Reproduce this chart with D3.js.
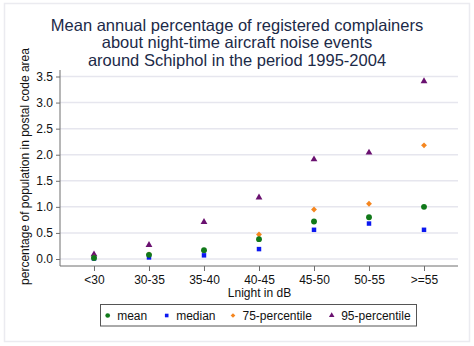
<!DOCTYPE html>
<html>
<head>
<meta charset="utf-8">
<script src="https://cdn.jsdelivr.net/npm/d3@7"></script>
<style>
  html, body { margin: 0; padding: 0; background: #fff; }
  svg { display: block; font-family: Arial, "Liberation Sans", sans-serif; }
</style>
</head>
<body>
<svg id="chart" width="474" height="346"></svg>
<script>
// Noise-band categories (Lnight in dB)
const categories = ["<30", "30-35", "35-40", "40-45", "45-50", "50-55", ">=55"];

// Percentage of population in postal code area with registered complaints
const meanValues   = [0.02, 0.08, 0.17, 0.38, 0.72, 0.80, 1.00];
const medianValues = [0.01, 0.03, 0.07, 0.19, 0.56, 0.68, 0.56];
const p75Values    = [0.03, 0.09, 0.16, 0.47, 0.95, 1.06, 2.18];
const p95Values    = [0.09, 0.27, 0.71, 1.18, 1.91, 2.04, 3.41];

const yTicks = [0, 0.5, 1.0, 1.5, 2.0, 2.5, 3.0, 3.5];

const titleLines = [
  "Mean annual percentage of registered complainers",
  "about night-time aircraft noise events",
  "around Schiphol in the period 1995-2004"
];

// square turned 45 degrees, equal width and height
const diamondSymbol = {
  draw(context, size) {
    const r = Math.sqrt(size / 2);
    context.moveTo(0, -r);
    context.lineTo(r, 0);
    context.lineTo(0, r);
    context.lineTo(-r, 0);
    context.closePath();
  }
};

const series = [
  { name: "mean",          values: meanValues,   color: "#11791a", symbol: d3.symbolCircle,   size: 27 },
  { name: "median",        values: medianValues, color: "#0b18f0", symbol: d3.symbolSquare,   size: 20 },
  { name: "75-percentile", values: p75Values,    color: "#f5861f", symbol: diamondSymbol,     size: 17 },
  { name: "95-percentile", values: p95Values,    color: "#6a1170", symbol: d3.symbolTriangle, size: 20 }
];

const svg = d3.select("#chart");
const plotLeft = 60, plotRight = 458, plotTop = 70, plotBottom = 266;

// outer frame
svg.append("rect")
  .attr("x", 4.5).attr("y", 3.5).attr("width", 465).attr("height", 338)
  .attr("fill", "#fff").attr("stroke", "#ebebf0").attr("stroke-width", 1.5);

const x = d3.scalePoint().domain(categories).range([plotLeft, plotRight]).padding(0.618);
const y = d3.scaleLinear().domain([0, 3.5]).range([259, 76.5]);

// gridlines
svg.append("g").selectAll("line").data(yTicks).join("line")
  .attr("x1", plotLeft).attr("x2", plotRight)
  .attr("y1", d => y(d)).attr("y2", d => y(d))
  .attr("stroke", "#e6e6ee").attr("stroke-width", 1.5);

// y axis
const yAxis = svg.append("g").attr("transform", `translate(${plotLeft},0)`)
  .call(d3.axisLeft(y).tickValues(yTicks).tickFormat(d3.format(".1f")).tickSize(4).tickPadding(3).tickSizeOuter(0));
yAxis.select(".domain").attr("d", `M0,${plotTop}V${plotBottom}`).attr("stroke", "#6e6e6e");
yAxis.selectAll(".tick line").attr("stroke", "#6e6e6e");
yAxis.selectAll("text").attr("font-size", 12).attr("fill", "#111").attr("font-family", "Arial, 'Liberation Sans', sans-serif");

// x axis
const xAxis = svg.append("g").attr("transform", `translate(0,${plotBottom})`)
  .call(d3.axisBottom(x).tickSize(5).tickPadding(4).tickSizeOuter(0));
xAxis.select(".domain").attr("d", `M${plotLeft},0H${plotRight}`).attr("stroke", "#6e6e6e");
xAxis.selectAll(".tick line").attr("stroke", "#6e6e6e");
xAxis.selectAll("text").attr("font-size", 12).attr("fill", "#111").attr("font-family", "Arial, 'Liberation Sans', sans-serif");

// axis titles
svg.append("text").attr("x", (plotLeft + plotRight) / 2 + 0.5).attr("y", 297)
  .attr("text-anchor", "middle").attr("font-size", 12).attr("fill", "#111")
  .text("Lnight in dB");
svg.append("text").attr("transform", "translate(29,166.5) rotate(-90)")
  .attr("text-anchor", "middle").attr("font-size", 12).attr("fill", "#111")
  .text("percentage of population in postal code area");

// title
svg.append("g").selectAll("text").data(titleLines).join("text")
  .attr("x", 237).attr("y", (d, i) => 30.5 + i * 17.5)
  .attr("text-anchor", "middle").attr("font-size", 16.5).attr("fill", "#1c2a48")
  .text(d => d);

// markers: upper percentiles first so mean and median sit on top
series.slice().reverse().forEach(s => {
  svg.append("g").selectAll("path").data(s.values).join("path")
    .attr("transform", (d, i) => `translate(${x(categories[i])},${y(d)})`)
    .attr("d", d3.symbol().type(s.symbol).size(s.size))
    .attr("fill", s.color);
});

// legend
const legend = svg.append("g");
legend.append("rect").attr("x", 100.5).attr("y", 304.5).attr("width", 316).attr("height", 21.5)
  .attr("fill", "#fff").attr("stroke", "#555").attr("stroke-width", 1);
const legendX = [107.7, 166.7, 233, 331.7];
series.forEach((s, i) => {
  legend.append("path")
    .attr("transform", `translate(${legendX[i]},315.5)`)
    .attr("d", d3.symbol().type(s.symbol).size(s.size * 0.65))
    .attr("fill", s.color);
  legend.append("text").attr("x", legendX[i] + 9.5).attr("y", 320)
    .attr("font-size", 12).attr("fill", "#111").text(s.name);
});
</script>
</body>
</html>
